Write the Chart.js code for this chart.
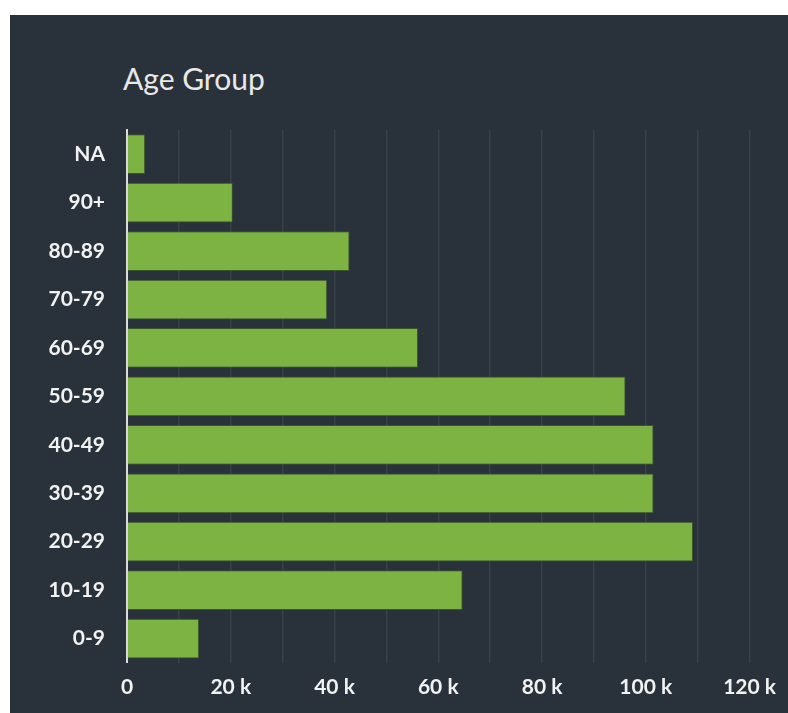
<!DOCTYPE html>
<html>
<head>
<meta charset="utf-8">
<script src="https://cdn.jsdelivr.net/npm/chart.js@4/dist/chart.umd.min.js"></script>
<style>
  html, body { margin: 0; padding: 0; background: #ffffff; }
  body { width: 788px; height: 713px; position: relative; overflow: hidden; }
  #panel { position: absolute; left: 10px; top: 15px; width: 778px; height: 698px; background: #29323b; }
  #title { position: absolute; left: 113px; top: 48px; font: 400 30px Lato, sans-serif; line-height: 30px; color: #e8e8e8; }
  #wrap { position: absolute; left: 0; top: 0; width: 778px; height: 698px; }
</style>
</head>
<body>
<div id="panel">
  <div id="title">Age Group</div>
  <div id="wrap"><canvas id="chart"></canvas></div>
</div>
<script>
// top to bottom, as on the chart
const ageGroups = ["NA", "90+", "80-89", "70-79", "60-69", "50-59", "40-49", "30-39", "20-29", "10-19", "0-9"]
const counts = [3500, 20400, 42900, 38600, 56100, 96100, 101500, 101500, 109100, 64700, 13900]
const xTicks = [0, 20000, 40000, 60000, 80000, 100000, 120000]

const tickFont = { family: "Lato", size: 21, weight: "bold" }

const ctx = document.getElementById("chart").getContext("2d")

new Chart(ctx, {
    type: "bar",
    data: {
        labels: ageGroups,
        datasets: [
            {
                label: "Age Group",
                data: counts,
                backgroundColor: "#7cb342",
                borderColor: "rgba(70,100,35,0.7)",
                borderWidth: 1,
                barPercentage: 0.82,
                categoryPercentage: 1,
            },
        ],
    },
    options: {
        indexAxis: "y",
        responsive: true,
        maintainAspectRatio: false,
        animation: false,
        layout: {
            padding: { top: 115, right: 13, bottom: 1, left: 0 },
        },
        plugins: {
            legend: { display: false },
            tooltip: { enabled: false },
        },
        scales: {
            x: {
                min: 0,
                max: 120000,
                grid: {
                    color: "rgba(255,255,255,0.07)",
                    lineWidth: 1.5,
                    drawTicks: false,
                },
                border: { display: false },
                ticks: {
                    stepSize: 10000,
                    padding: 12,
                    autoSkip: false,
                    maxRotation: 0,
                    minRotation: 0,
                    color: "#f2f2f2",
                    font: tickFont,
                    callback: function (value) {
                        if (!xTicks.includes(value)) return ""
                        return value === 0 ? "0" : (value / 1000) + " k"
                    },
                },
            },
            y: {
                grid: { display: false, drawTicks: false },
                border: { display: true, color: "#dcdcdc", width: 2 },
                ticks: {
                    padding: 22,
                    color: "#f2f2f2",
                    font: tickFont,
                },
                afterFit: function (scale) {
                    scale.width = 117
                },
            },
        },
    },
})
</script>
</body>
</html>
